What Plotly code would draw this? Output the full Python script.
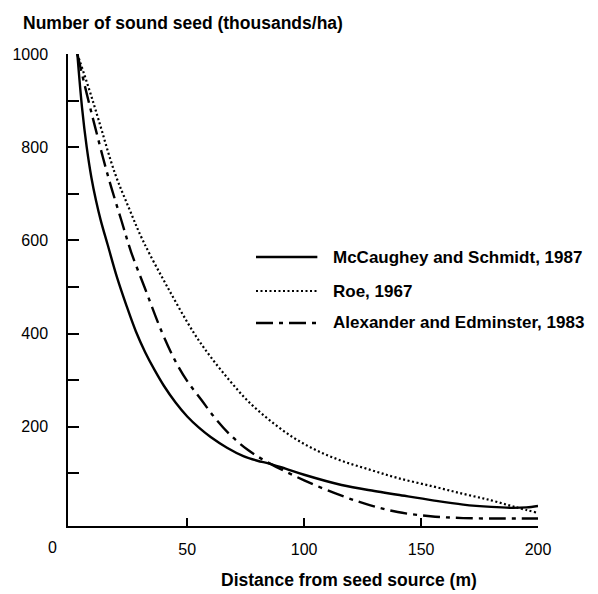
import plotly.graph_objects as go

# Seed dispersal curves: distance from seed source (m) vs sound seed (thousands/ha)
mccaughey_x = [3, 5, 7, 9, 11, 13, 16, 20, 24, 28, 32, 36, 40, 45, 50, 55, 60, 67, 74, 80, 85, 92,
               100, 116, 130, 140, 155, 168, 180, 189, 195, 200]
mccaughey_y = [1000, 885, 800, 735, 685, 643, 590, 520, 460, 405, 360, 322, 288, 252, 222, 198, 178,
               155, 137, 127, 121, 110, 97, 75, 62, 54, 42, 33, 28, 26, 27, 30]

roe_x = [3, 8, 12, 19, 25, 31, 41.5, 53, 60, 68, 76, 85, 95, 105, 116, 128, 140, 155, 168, 180, 190, 200]
roe_y = [1000, 925, 860, 745, 670, 600, 500, 400, 350, 300, 255, 215, 178, 150, 127, 108, 90, 72, 56,
         42, 28, 15]

alexander_x = [3, 7, 10.6, 16, 22, 26, 31.7, 39, 45, 50, 56, 62, 68.5, 76, 85, 100, 116, 128, 140,
               154, 168, 185, 200]
alexander_y = [1000, 915, 843, 740, 640, 575, 500, 405, 340, 298, 258, 218, 182, 150, 122, 85, 52,
               32, 17, 8, 4, 3, 3]

series_names = ["McCaughey and Schmidt, 1987", "Roe, 1967", "Alexander and Edminster, 1983"]
series_dash = ["solid", "2px,2.5px", "17px,6px,4px,6px"]
series_width = [2.4, 2.2, 2.4]

y_tickvals = [100, 200, 300, 400, 500, 600, 700, 800, 900, 1000]
y_ticktext = ["", "200", "", "400", "", "600", "", "800", "", "1000"]
x_tickvals = [50, 100, 150, 200]
x_ticktext = ["50", "100", "150", "200"]

y_title = "Number of sound seed (thousands/ha)"
x_title = "Distance from seed source (m)"

FONT = "Liberation Sans, Arial, sans-serif"

fig = go.Figure()
for xs, ys, name, dash, w in zip(
    [mccaughey_x, roe_x, alexander_x],
    [mccaughey_y, roe_y, alexander_y],
    series_names, series_dash, series_width,
):
    fig.add_trace(go.Scatter(
        x=xs, y=ys, name=name, mode="lines",
        line=dict(color="black", width=w, dash=dash, shape="spline", smoothing=1.0),
        showlegend=False,
    ))

# Plot area in pixels (used to place legend and titles in paper coordinates)
L, R, T, B = 63, 538, 54, 526
W, H = 598, 594


def px(xp):
    return (xp - L) / (R - L)


def py(yp):
    return (B - yp) / (B - T)


# Hand-laid legend: sample line + bold label for each series
legend_rows = [257, 291, 323]
for name, dash, w, yrow in zip(series_names, series_dash, series_width, legend_rows):
    fig.add_shape(type="line", xref="paper", yref="paper",
                  x0=px(253), x1=px(315), y0=py(yrow), y1=py(yrow),
                  line=dict(color="black", width=w, dash=dash))
    fig.add_annotation(text=f"<b>{name}</b>", xref="paper", yref="paper",
                       x=px(329), y=py(yrow), xanchor="left", yanchor="middle",
                       showarrow=False, font=dict(size=17, family=FONT, color="black"))

fig.add_annotation(text=f"<b>{y_title}</b>", xref="paper", yref="paper",
                   x=px(16), y=py(23), xanchor="left", yanchor="middle",
                   showarrow=False, font=dict(size=17.5, family=FONT, color="black"))
fig.add_annotation(text=f"<b>{x_title}</b>", xref="paper", yref="paper",
                   x=px(347), y=py(580), xanchor="center", yanchor="middle",
                   showarrow=False, font=dict(size=17.5, family=FONT, color="black"))
fig.add_annotation(text="0", xref="paper", yref="paper",
                   x=px(47), y=py(547), xanchor="center", yanchor="middle",
                   showarrow=False, font=dict(size=16, family=FONT, color="black"))

fig.update_layout(
    width=W, height=H,
    margin=dict(l=L, r=W - R, t=T, b=H - B),
    paper_bgcolor="white", plot_bgcolor="white",
    font=dict(family=FONT, size=16, color="black"),
)
fig.update_xaxes(
    range=[-1, 200], showgrid=False, zeroline=False,
    showline=True, linecolor="black", linewidth=1.5,
    ticks="inside", ticklen=8, tickwidth=1.5, tickcolor="black",
    tickvals=x_tickvals, ticktext=x_ticktext, ticklabelstandoff=8,
)
fig.update_yaxes(
    range=[-13, 1000], showgrid=False, zeroline=False,
    showline=True, linecolor="black", linewidth=1.5,
    ticks="inside", ticklen=11, tickwidth=1.5, tickcolor="black",
    tickvals=y_tickvals, ticktext=y_ticktext, ticklabelstandoff=15,
)

fig.write_html("out.html")
